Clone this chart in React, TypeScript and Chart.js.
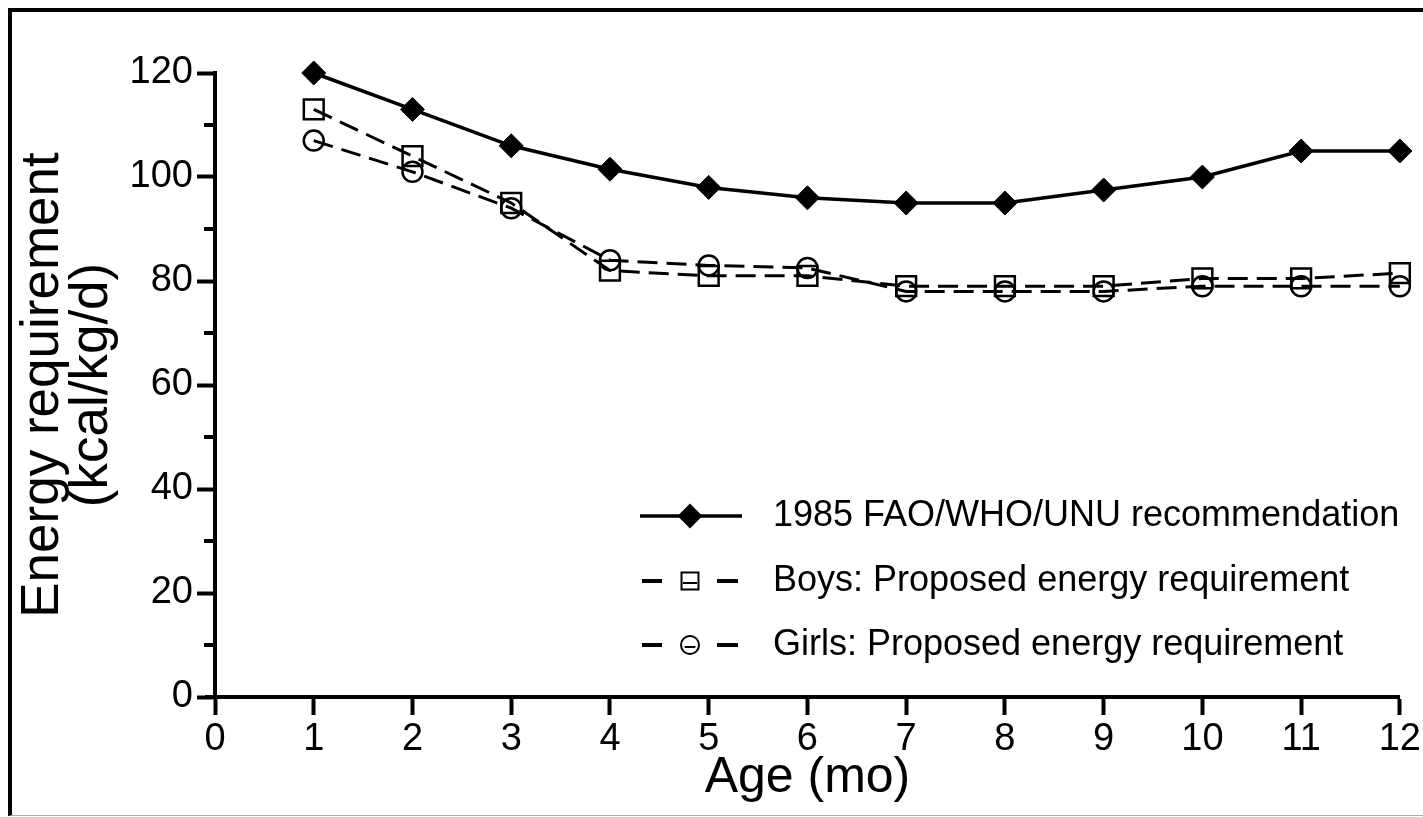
import React, { useEffect, useRef } from 'react';
import { Chart, registerables } from 'chart.js';
import { drawPoint } from 'chart.js/helpers';

Chart.register(...registerables);

const AGES = [1, 2, 3, 4, 5, 6, 7, 8, 9, 10, 11, 12];
const FAO_1985 = [120, 113, 106, 101.5, 98, 96, 95, 95, 97.5, 100, 105, 105];
const BOYS = [113, 104, 95, 82, 81, 81, 79, 79, 79, 80.5, 80.5, 81.5];
const GIRLS = [107, 101, 94, 84, 83, 82.5, 78, 78, 78, 79, 79, 79];
const SERIES_LABELS = [
  '1985 FAO/WHO/UNU recommendation',
  'Boys: Proposed energy requirement',
  'Girls: Proposed energy requirement',
];
const X_TICKS = [0, 1, 2, 3, 4, 5, 6, 7, 8, 9, 10, 11, 12];
const Y_TICKS = [0, 20, 40, 60, 80, 100, 120];
const Y_MINOR_TICKS = [10, 30, 50, 70, 90, 110];
const X_TITLE = 'Age (mo)';
const Y_TITLE = ['Energy requirement', '(kcal/kg/d)'];

const FAMILY = '"Liberation Sans", Arial, Helvetica, sans-serif';

const minorTicksPlugin = {
  id: 'minorTicks',
  afterDraw(chart: any) {
    const ys = chart.scales.y;
    const xs = chart.scales.x;
    const ctx = chart.ctx;
    ctx.save();
    ctx.strokeStyle = '#000';
    ctx.lineWidth = 4;
    Y_MINOR_TICKS.forEach((v) => {
      const py = Math.round(ys.getPixelForValue(v));
      ctx.beginPath();
      ctx.moveTo(ys.right - 11, py);
      ctx.lineTo(ys.right, py);
      ctx.stroke();
    });
    const y0 = Math.round(ys.getPixelForValue(0));
    ctx.beginPath();
    ctx.moveTo(xs.left - 10, y0);
    ctx.lineTo(xs.left, y0);
    ctx.stroke();
    ctx.restore();
  },
};

const legendPlugin = {
  id: 'insideLegend',
  afterDraw(chart: any) {
    const ctx = chart.ctx;
    const area = chart.chartArea;
    const rows = [516, 581, 645];
    const radii = [11, 12, 9];
    const sx0 = area.left + 425;
    const sx1 = area.left + 527;
    const mx = area.left + 475;
    const tx = area.left + 558;
    chart.data.datasets.forEach((ds: any, i: number) => {
      const y = rows[i];
      ctx.save();
      ctx.strokeStyle = '#000';
      ctx.lineWidth = i === 0 ? 3.5 : 4;
      ctx.setLineDash([]);
      ctx.beginPath();
      if (i === 0) {
        ctx.moveTo(sx0, y);
        ctx.lineTo(sx1, y);
      } else {
        ctx.moveTo(sx0 + 2, y);
        ctx.lineTo(sx0 + 22, y);
        ctx.moveTo(sx1 - 25, y);
        ctx.lineTo(sx1 - 4, y);
      }
      ctx.stroke();
      ctx.fillStyle = i === 0 ? '#000' : '#fff';
      ctx.lineWidth = 2;
      drawPoint(ctx, { pointStyle: ds.pointStyle, rotation: 0, radius: radii[i], borderWidth: 2 }, mx, y);
      if (i > 0) {
        ctx.beginPath();
        ctx.moveTo(mx - radii[i] * 0.6, y + 2);
        ctx.lineTo(mx + radii[i] * 0.6, y + 2);
        ctx.stroke();
      }
      ctx.fillStyle = '#000';
      ctx.font = `36px ${FAMILY}`;
      ctx.textBaseline = 'middle';
      ctx.textAlign = 'left';
      ctx.fillText(ds.label, tx, y);
      ctx.restore();
    });
  },
};

function toPoints(values: number[]) {
  return AGES.map((a, i) => ({ x: a, y: values[i] }));
}

export default function App() {
  const canvasRef = useRef<HTMLCanvasElement | null>(null);

  useEffect(() => {
    const canvas = canvasRef.current;
    if (!canvas) return;
    const chart = new Chart(canvas, {
      type: 'line',
      data: {
        datasets: [
          {
            label: SERIES_LABELS[0],
            data: toPoints(FAO_1985),
            borderColor: '#000',
            borderWidth: 3.5,
            pointStyle: 'rectRot',
            pointRadius: 12,
            pointBackgroundColor: '#000',
            pointBorderColor: '#000',
            pointBorderWidth: 1,
            tension: 0,
            clip: false,
          },
          {
            label: SERIES_LABELS[1],
            data: toPoints(BOYS),
            borderColor: '#000',
            borderWidth: 3,
            borderDash: [20, 9],
            pointStyle: 'rect',
            pointRadius: 14,
            pointBackgroundColor: 'rgba(0,0,0,0)',
            pointBorderColor: '#000',
            pointBorderWidth: 2.5,
            tension: 0,
            clip: false,
          },
          {
            label: SERIES_LABELS[2],
            data: toPoints(GIRLS),
            borderColor: '#000',
            borderWidth: 3,
            borderDash: [20, 9],
            pointStyle: 'circle',
            pointRadius: 10,
            pointBackgroundColor: 'rgba(0,0,0,0)',
            pointBorderColor: '#000',
            pointBorderWidth: 2.5,
            tension: 0,
            clip: false,
          },
        ],
      },
      options: {
        responsive: false,
        animation: false,
        devicePixelRatio: 1,
        layout: { padding: { left: 0, top: 73, right: 23, bottom: 0 } },
        plugins: {
          legend: { display: false },
          tooltip: { enabled: false },
        },
        scales: {
          x: {
            type: 'linear',
            min: 0,
            max: 12,
            afterFit: (s: any) => {
              s.height = 120;
            },
            afterBuildTicks: (s: any) => {
              s.ticks = X_TICKS.map((v) => ({ value: v }));
            },
            ticks: {
              color: '#000',
              font: { size: 38, family: FAMILY },
              padding: 2,
              maxRotation: 0,
              autoSkip: false,
            },
            grid: {
              drawOnChartArea: false,
              drawTicks: true,
              tickLength: 18,
              tickWidth: 4,
              tickColor: '#000',
            },
            border: { display: true, color: '#000', width: 4 },
            title: {
              display: true,
              text: X_TITLE,
              color: '#000',
              font: { size: 50, family: FAMILY, lineHeight: 1 },
              padding: { top: 0, bottom: 14 },
            },
          },
          y: {
            type: 'linear',
            min: 0,
            max: 120,
            afterFit: (s: any) => {
              s.width = 215;
            },
            afterBuildTicks: (s: any) => {
              s.ticks = Y_TICKS.map((v) => ({ value: v }));
            },
            ticks: {
              color: '#000',
              font: { size: 38, family: FAMILY },
              padding: 4,
              autoSkip: false,
            },
            grid: {
              drawOnChartArea: false,
              drawTicks: true,
              tickLength: 18,
              tickWidth: 4,
              tickColor: '#000',
            },
            border: { display: true, color: '#000', width: 4 },
            title: {
              display: true,
              text: Y_TITLE,
              color: '#000',
              font: { size: 53, family: FAMILY, lineHeight: 0.94 },
              padding: { top: 18, bottom: 0 },
            },
          },
        },
      },
      plugins: [minorTicksPlugin, legendPlugin],
    });
    return () => chart.destroy();
  }, []);

  return (
    <div
      style={{
        position: 'fixed',
        left: 0,
        top: 0,
        width: 1423,
        height: 817,
        background: '#fff',
        overflow: 'hidden',
      }}
    >
      <div
        style={{
          position: 'absolute',
          left: 8,
          top: 8,
          width: 1415,
          height: 808,
          boxSizing: 'border-box',
          borderLeft: '4px solid #000',
          borderTop: '4px solid #000',
          borderBottom: '1px solid #aaa',
        }}
      />
      <canvas
        ref={canvasRef}
        width={1423}
        height={817}
        style={{ position: 'absolute', left: 0, top: 0, width: 1423, height: 817 }}
      />
    </div>
  );
}
